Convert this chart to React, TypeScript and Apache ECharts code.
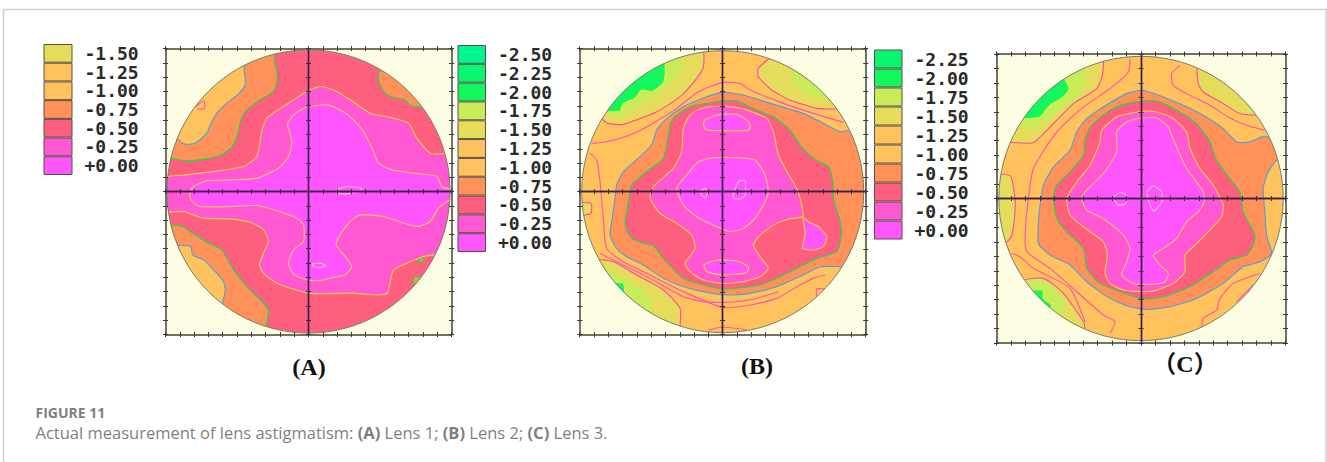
import React, { useEffect, useRef } from "react";
import * as echarts from "echarts";

type P = number[][];
type Contour = { level: string; pts: P; fill?: boolean; line?: string };

// ---- legends ----
const legendA = ["-1.50", "-1.25", "-1.00", "-0.75", "-0.50", "-0.25", "+0.00"];
const legendB = ["-2.50", "-2.25", "-2.00", "-1.75", "-1.50", "-1.25", "-1.00", "-0.75", "-0.50", "-0.25", "+0.00"];
const legendC = ["-2.25", "-2.00", "-1.75", "-1.50", "-1.25", "-1.00", "-0.75", "-0.50", "-0.25", "+0.00"];

const levelFill: Record<string, string> = {
  "-2.50": "#00F590", "-2.25": "#08F570", "-2.00": "#12F85C", "-1.75": "#C8EB5A", "-1.50": "#E6DC5C",
  "-1.25": "#FFC25C", "-1.00": "#FFC25C", "-0.75": "#FF9159", "-0.50": "#FF5F7E", "-0.25": "#FF58D2", "+0.00": "#FF55FF",
};
// colour of the line on the outer side of each level
const levelLine: Record<string, string> = {
  "-2.50": "#10E880", "-2.25": "#10E870", "-2.00": "#E0F040", "-1.75": "#D8E060", "-1.50": "#FF45A5",
  "-1.25": "#FF50B0", "-1.00": "#4DA0DC", "-0.75": "#18DC48", "-0.50": "#F8D048", "-0.25": "#FFC85A", spot: "#FFB8D0",
};

const a075TopLeft: P = [[728,50],[733,80],[740,110],[740,145],[728,172],[690,195],[650,225],[632,255],[625,290],[610,330],[575,360],[530,372],[470,378],[430,372],[400,372],[400,50]];
const a100TopLeft: P = [[640,80],[642,100],[645,150],[625,178],[590,205],[560,235],[540,270],[530,295],[495,325],[465,328],[445,315],[425,290],[420,80]];
const a125Spot: P = [[497,215],[522,198],[522,222],[502,222]];
const a075TopRight: P = [[1055,95],[1045,118],[1045,140],[1065,175],[1090,188],[1125,195],[1140,212],[1175,217],[1195,217],[1150,140],[1060,90]];
const a025Main: P = [[400,430],[470,420],[550,410],[640,395],[680,365],[695,290],[710,250],[760,215],[830,170],[870,155],[910,165],[960,195],[1020,235],[1090,250],[1135,265],[1160,310],[1200,355],[1245,357],[1290,357],[1290,660],[1215,660],[1180,665],[1130,685],[1090,705],[1080,740],[1072,775],[1050,780],[960,775],[835,775],[740,745],[700,715],[688,690],[700,655],[715,620],[700,585],[660,562],[600,552],[520,550],[460,530],[400,528]];
const a000Main: P = [[775,260],[800,232],[835,215],[890,210],[930,225],[970,255],[1000,290],[1030,350],[1045,385],[1085,405],[1150,415],[1220,425],[1235,455],[1260,462],[1290,462],[1290,485],[1260,495],[1225,520],[1200,560],[1165,575],[1120,565],[1060,545],[990,540],[960,560],[930,600],[918,630],[945,665],[965,695],[945,720],[900,730],[870,737],[830,735],[790,718],[775,685],[790,645],[820,620],[820,570],[800,550],[730,525],[680,512],[600,515],[510,515],[485,500],[478,480],[490,455],[530,438],[600,435],[680,430],[745,400],[775,365],[785,320],[772,270]];
const a000SpotRight: P = [[918,465],[950,455],[995,460],[985,470],[950,477],[925,475],[918,465]];
const a000SpotLow: P = [[845,688],[870,685],[887,692],[870,698],[850,695],[845,688]];
const a075SpotLowA: P = [[1160,680],[1180,668],[1180,680]];
const a075SpotLowB: P = [[1150,752],[1172,728],[1152,726]];
const a075LowLeft: P = [[400,570],[425,570],[458,575],[480,590],[530,622],[575,645],[610,705],[650,755],[690,795],[715,825],[708,875],[708,900],[400,900]];
const a100LowLeft: P = [[445,632],[482,635],[487,660],[520,675],[550,705],[580,740],[585,770],[578,802],[578,825],[400,825],[400,632]];

const lensAContours: Contour[] = [
  { level: "-0.75", pts: a075TopLeft, fill: true },
  { level: "-1.00", pts: a100TopLeft, fill: true },
  { level: "-1.25", pts: a125Spot },
  { level: "-0.75", pts: a075TopRight, fill: true },
  { level: "-0.75", pts: a075LowLeft, fill: true },
  { level: "-1.00", pts: a100LowLeft, fill: true },
  { level: "-0.75", pts: a075SpotLowA, fill: true },
  { level: "-0.75", pts: a075SpotLowB, fill: true },
  { level: "-0.25", pts: a025Main, fill: true, line: "-0.50" },
  { level: "+0.00", pts: a000Main, fill: true, line: "-0.25" },
  { level: "+0.00", pts: a000SpotRight, line: "spot" },
  { level: "+0.00", pts: a000SpotLow, line: "spot" },
];

// ---- lens B contours ----
const b150TopLeft: P = [[757,45],[760,95],[740,130],[690,185],[620,230],[520,268],[475,265],[460,255],[430,200],[600,45]];
const b175TopLeft: P = [[690,60],[690,115],[640,165],[570,210],[520,240],[470,235],[430,220],[600,50]];
const b200TopLeft: P = [[640,75],[642,140],[605,170],[575,165],[555,190],[520,205],[510,228],[470,230],[430,230],[500,120]];
const b150TopRight: P = [[965,65],[925,100],[925,125],[965,165],[1020,195],[1100,220],[1155,222],[1190,222],[1200,150],[1000,50]];
const b175TopRight: P = [[1030,95],[1025,135],[1065,172],[1130,192],[1180,192],[1100,80]];
const b150LowLeft: P = [[440,678],[490,680],[560,720],[640,765],[690,820],[690,875],[690,900],[440,900]];
const b175LowLeft: P = [[440,705],[470,705],[520,725],[570,760],[600,790],[610,830],[610,860],[440,860]];
const b200LowLeft: P = [[480,745],[520,745],[525,770],[550,795],[530,810],[480,780]];
const b150Left: P = [[380,505],[423,505],[423,535],[405,540],[380,540]];
const b125Upper: P = [[425,325],[470,320],[540,300],[600,270],[680,220],[745,170],[818,142],[870,145],[900,165],[1000,205],[1090,235],[1180,262]];
const b125Lower: P = [[420,355],[440,375],[450,440],[460,550],[470,640],[520,680],[600,720],[700,770],[818,817],[900,810],[980,790],[1050,750],[1090,730],[1125,720]];
const b125LowerB: P = [[450,655],[500,680],[600,730],[700,785],[760,800],[818,802],[900,795],[985,770]];
const b125Rim: P = [[775,885],[818,876],[890,885]];
const b125RightSpot: P = [[1100,790],[1100,762],[1125,762]];
const b075Ring: P = [[1290,285],[1195,285],[1170,290],[1120,265],[1060,235],[960,205],[880,180],[818,172],[770,185],[700,215],[650,250],[620,285],[605,330],[570,365],[520,410],[500,450],[495,490],[485,560],[480,600],[500,640],[530,665],[580,690],[640,730],[700,755],[770,772],[840,780],[900,775],[980,755],[1060,720],[1110,695],[1176,695],[1290,695]];
const b050Ring: P = [[818,197],[860,197],[920,225],[970,245],[1020,285],[1050,330],[1090,370],[1135,395],[1150,450],[1150,490],[1165,540],[1175,590],[1160,650],[1100,670],[1060,690],[1000,720],[930,750],[830,762],[780,755],[700,730],[640,670],[610,632],[580,625],[540,605],[525,565],[535,500],[545,450],[590,410],[640,370],[655,300],[665,255],[720,215],[770,205]];
const b025Main: P = [[760,218],[818,213],[880,222],[950,250],[970,290],[985,360],[1005,400],[1040,460],[1055,510],[1058,545],[1025,550],[980,565],[930,600],[910,630],[930,665],[955,700],[930,725],[880,740],[818,745],[760,735],[720,710],[705,685],[735,640],[725,600],[680,565],[630,535],[600,490],[610,455],[670,400],[695,350],[700,280],[720,240]];
const b025Satellite: P = [[1058,545],[1075,560],[1105,575],[1130,605],[1120,635],[1090,645],[1058,640],[1065,595],[1060,560]];
const b000Top: P = [[765,255],[800,240],[860,238],[895,260],[900,280],[890,287],[770,285],[760,270]];
const b000Bottom: P = [[762,690],[800,675],[860,678],[895,695],[890,712],[820,720],[770,710]];
const b000Centre: P = [[680,460],[710,420],[745,380],[790,368],[860,368],[915,375],[945,420],[955,470],[945,500],[915,550],[880,580],[840,590],[800,575],[740,545],[700,510]];
const b000SpotA: P = [[752,468],[765,460],[772,475],[765,488],[755,480],[752,468]];
const b000SpotB: P = [[850,480],[865,440],[885,437],[885,480],[870,492],[850,490],[850,480]];

const lensBContours: Contour[] = [
  { level: "-1.50", pts: b150TopLeft, fill: true },
  { level: "-1.75", pts: b175TopLeft, fill: true },
  { level: "-2.00", pts: b200TopLeft, fill: true },
  { level: "-1.50", pts: b150TopRight, fill: true },
  { level: "-1.75", pts: b175TopRight, fill: true },
  { level: "-1.50", pts: b150LowLeft, fill: true },
  { level: "-1.75", pts: b175LowLeft, fill: true },
  { level: "-2.00", pts: b200LowLeft, fill: true },
  { level: "-1.50", pts: b150Left, fill: true },
  { level: "-1.25", pts: b125Upper },
  { level: "-1.25", pts: b125Lower },
  { level: "-1.25", pts: b125LowerB },
  { level: "-1.25", pts: b125Rim },
  { level: "-1.25", pts: b125RightSpot },
  { level: "-0.75", pts: b075Ring, fill: true, line: "-1.00" },
  { level: "-0.50", pts: b050Ring, fill: true, line: "-0.75" },
  { level: "-0.25", pts: b025Main, fill: true, line: "-0.50" },
  { level: "+0.00", pts: b025Satellite, fill: true, line: "-0.50" },
  { level: "+0.00", pts: b000Top, fill: true, line: "-0.50" },
  { level: "+0.00", pts: b000Bottom, fill: true, line: "-0.50" },
  { level: "+0.00", pts: b000Centre, fill: true, line: "-0.25" },
  { level: "+0.00", pts: b000SpotA, line: "spot" },
  { level: "+0.00", pts: b000SpotB, line: "spot" },
];

// ---- lens C contours ----
const c150TopLeft: P = [[693,50],[698,115],[680,160],[610,205],[540,275],[490,322],[425,322],[400,322],[400,60]];
const c175TopLeft: P = [[640,90],[645,145],[620,190],[575,220],[520,262],[480,282],[450,275],[420,275],[500,100]];
const c200TopLeft: P = [[578,125],[597,160],[580,185],[540,210],[510,245],[475,250],[440,250],[520,130]];
const c150TopRight: P = [[985,90],[985,145],[1000,170],[1060,205],[1110,235],[1155,240],[1200,240],[1100,80]];
const c125TopRightLine: P = [[930,90],[905,115],[910,150],[950,175],[1020,210],[1075,245],[1130,270],[1185,285]];
const c150Left: P = [[360,422],[420,422],[432,470],[435,520],[425,600],[410,620],[360,620]];
const c150LowLeft: P = [[440,745],[520,730],[580,775],[640,860],[645,885],[645,910],[440,910]];
const c175LowLeft: P = [[440,745],[510,735],[560,765],[582,800],[575,840],[440,840]];
const c200LowLeft: P = [[470,770],[518,765],[520,790],[545,810],[535,825],[470,800]];
const c125LineA: P = [[780,70],[775,110],[720,160],[640,215],[560,290],[490,400],[475,490],[465,600],[470,650],[540,700],[620,770],[700,840],[735,860],[720,895]];
const c125LineB: P = [[425,655],[450,665],[490,700],[530,720],[600,760],[645,860]];
const c125LineC: P = [[995,885],[1000,850],[1040,825],[1050,790],[1090,745],[1170,715]];
const c125LineD: P = [[1100,800],[1150,750]];
const c075Ring: P = [[1290,375],[1222,375],[1195,410],[1180,460],[1185,530],[1190,600],[1205,655],[1170,680],[1120,695],[1060,745],[980,790],[900,815],[830,823],[780,815],[720,790],[650,740],[600,690],[540,660],[505,625],[505,560],[510,510],[520,450],[550,395],[600,345],[620,290],[650,250],[700,215],[770,175],[818,165],[880,185],[940,210],[1000,240],[1060,280],[1100,320],[1140,320],[1175,305],[1195,305],[1290,305]];
const c050Ring: P = [[818,197],[860,197],[920,225],[980,265],[1020,320],[1040,375],[1075,425],[1110,470],[1120,530],[1155,600],[1150,630],[1130,660],[1080,675],[1030,710],[960,755],[880,785],[818,792],[750,770],[690,745],[650,700],[640,640],[590,590],[560,550],[550,490],[560,450],[600,410],[640,360],[645,310],[665,270],[720,225],[770,205]];
const c025Main: P = [[818,228],[860,230],[910,250],[950,290],[960,340],[990,400],[1030,450],[1060,510],[1055,545],[1015,590],[975,630],[945,660],[945,710],[910,745],[850,768],[818,770],[760,765],[720,745],[705,715],[712,660],[700,620],[640,575],[600,540],[590,490],[620,440],[660,390],[690,320],[695,285],[740,245]];
const c000Main: P = [[818,248],[860,248],[895,275],[905,300],[935,370],[950,400],[1000,470],[1003,500],[985,530],[950,560],[920,610],[880,640],[850,660],[870,690],[895,715],[885,740],[840,748],[790,745],[755,720],[770,680],[780,640],[760,600],[700,550],[650,525],[635,490],[650,465],[700,415],[740,350],[740,290],[770,260]];
const c000SpotA: P = [[728,487],[750,472],[770,480],[768,505],[745,510],[728,487]];
const c000SpotB: P = [[830,470],[850,452],[875,470],[875,500],[852,528],[840,510],[830,470]];

const lensCContours: Contour[] = [
  { level: "-1.50", pts: c150TopLeft, fill: true },
  { level: "-1.75", pts: c175TopLeft, fill: true },
  { level: "-2.00", pts: c200TopLeft, fill: true },
  { level: "-1.50", pts: c150TopRight, fill: true },
  { level: "-1.25", pts: c125TopRightLine },
  { level: "-1.50", pts: c150Left, fill: true },
  { level: "-1.50", pts: c150LowLeft, fill: true },
  { level: "-1.75", pts: c175LowLeft, fill: true },
  { level: "-2.00", pts: c200LowLeft, fill: true },
  { level: "-1.25", pts: c125LineA },
  { level: "-1.25", pts: c125LineB },
  { level: "-1.25", pts: c125LineC },
  { level: "-1.25", pts: c125LineD },
  { level: "-0.75", pts: c075Ring, fill: true, line: "-1.00" },
  { level: "-0.50", pts: c050Ring, fill: true, line: "-0.75" },
  { level: "-0.25", pts: c025Main, fill: true, line: "-0.50" },
  { level: "+0.00", pts: c000Main, fill: true, line: "-0.25" },
  { level: "+0.00", pts: c000SpotA, line: "spot" },
  { level: "+0.00", pts: c000SpotB, line: "spot" },
];

// ---- layout and style ----
const FRAME_BG = "#FDFDE3";
const panels = [
  { contours: lensAContours, base: "-0.50", origin: [835, 470], unit: 42.9, radius: 9.9, left: 165.5, top: 48.5, size: 286, legend: legendA, legendBox: [43.5, 44, 29, 131] },
  { contours: lensBContours, base: "-1.00", origin: [818, 470], unit: 42.9, radius: 9.86, left: 579.7, top: 48.7, size: 286, legend: legendB, legendBox: [457.5, 45, 28.5, 207] },
  { contours: lensCContours, base: "-1.00", origin: [813, 490], unit: 43.4, radius: 9.84, left: 996.5, top: 54, size: 289, legend: legendC, legendBox: [874, 49.5, 28.5, 190] },
];
const panelLabels = [
  { text: "(A)", x: 309, y: 367 },
  { text: "(B)", x: 757, y: 366 },
  { text: "（C）", x: 1185, y: 364 },
];

function buildOption() {
  const grid: any[] = [], xAxis: any[] = [], yAxis: any[] = [], series: any[] = [];
  const valueRange = { type: "value", min: -10, max: 10, interval: 1, splitLine: { show: false }, axisLabel: { show: false } };

  const addAxes = (p: any, frame: boolean, inside: boolean) => {
    const g = grid.length;
    grid.push({ left: p.left, top: p.top, width: p.size, height: p.size, show: false });
    const line = frame
      ? { show: true, onZero: false, lineStyle: { color: "#6A6A5A", width: 1.5 } }
      : { show: true, onZero: true, lineStyle: { color: "#3A2048", width: 1.4 } };
    const tick = { show: true, inside, length: 2.5, lineStyle: { color: "#3A3040", width: 1 } };
    const positionsX = frame ? ["bottom", "top"] : ["bottom"];
    const positionsY = frame ? ["left", "right"] : ["left"];
    positionsX.forEach((position) => xAxis.push({ ...valueRange, gridIndex: g, position, z: 6, axisLine: line, axisTick: tick }));
    positionsY.forEach((position) => yAxis.push({ ...valueRange, gridIndex: g, position, z: 6, axisLine: line, axisTick: tick }));
  };

  panels.forEach((p) => {
    // contour map
    const g = grid.length;
    grid.push({ left: p.left, top: p.top, width: p.size, height: p.size, show: true, backgroundColor: FRAME_BG, borderWidth: 0 });
    const xi = xAxis.length, yi = yAxis.length;
    xAxis.push({ ...valueRange, gridIndex: g, show: false });
    yAxis.push({ ...valueRange, gridIndex: g, show: false });

    const toAxis = (pt: number[]) => [(pt[0] - p.origin[0]) / p.unit, (p.origin[1] - pt[1]) / p.unit];
    const n = p.contours.length;
    series.push({
      type: "custom", coordinateSystem: "cartesian2d", xAxisIndex: xi, yAxisIndex: yi, clip: true, silent: true, z: 2,
      data: Array.from({ length: n + 2 }, (_, i) => [0, 0, i]),
      renderItem: (params: any, api: any) => {
        const i = params.dataIndex;
        const c = api.coord([0, 0]);
        const r = api.size([p.radius, 0])[0];
        if (i === 0) return { type: "circle", shape: { cx: c[0], cy: c[1], r }, style: { fill: levelFill[p.base], stroke: "none" } };
        if (i === n + 1) return {
          type: "group",
          children: [
            { type: "ring", shape: { cx: c[0], cy: c[1], r: r * 2, r0: r }, style: { fill: FRAME_BG, stroke: "none" } },
            { type: "circle", shape: { cx: c[0], cy: c[1], r }, style: { fill: "none", stroke: "#7A7A66", lineWidth: 1 } },
          ],
        };
        const ct = p.contours[i - 1];
        const points = ct.pts.map((pt) => api.coord(toAxis(pt)));
        return {
          type: ct.fill ? "polygon" : "polyline",
          shape: { points, smooth: 0.2 },
          style: { fill: ct.fill ? levelFill[ct.level] : "none", stroke: levelLine[ct.line || ct.level], lineWidth: 1.1 },
        };
      },
    });

    // frame and cross, with ticks on both sides of each line
    addAxes(p, true, true);
    addAxes(p, true, false);
    addAxes(p, false, true);
    addAxes(p, false, false);

    // colour key
    const lg = grid.length;
    const [lx, ly, lw, lh] = p.legendBox;
    grid.push({ left: lx, top: ly, width: lw, height: lh, show: false });
    const lxi = xAxis.length, lyi = yAxis.length;
    xAxis.push({ type: "value", gridIndex: lg, min: 0, max: 1, show: false });
    yAxis.push({
      type: "category", gridIndex: lg, position: "right", inverse: true, data: p.legend,
      axisLine: { show: false }, axisTick: { show: false },
      axisLabel: { interval: 0, margin: 12, padding: [6, 0, 0, 0], fontFamily: "DejaVu Sans Mono", fontSize: 18, fontWeight: "bold", color: "#2A2A2A" },
    });
    series.push({
      type: "bar", xAxisIndex: lxi, yAxisIndex: lyi, barWidth: "100%", silent: true,
      data: p.legend.map((l) => ({ value: 1, itemStyle: { color: levelFill[l], borderColor: "#5A5040", borderWidth: 1 } })),
    });
  });

  const graphic: any[] = [
    { type: "polyline", silent: true, shape: { points: [[3.5, 462], [3.5, 9.5], [1326, 9.5], [1326, 462]] }, style: { fill: "none", stroke: "#CFCFCF", lineWidth: 1.5 } },
    ...panelLabels.map((l) => ({
      type: "text", silent: true, x: l.x, y: l.y,
      style: { text: l.text, align: "center", verticalAlign: "middle", fill: "#111", font: 'bold 24px "Liberation Serif", "Noto Sans CJK SC"' },
    })),
    { type: "text", silent: true, x: 35.5, y: 412, style: { text: "FIGURE 11", verticalAlign: "middle", fill: "#7F7F7F", font: 'bold 14px "Open Sans"' } },
    {
      type: "text", silent: true, x: 35.5, y: 432,
      style: {
        text: "{n|Actual measurement of lens astigmatism: }{b|(A)}{n| Lens 1; }{b|(B)}{n| Lens 2; }{b|(C)}{n| Lens 3.}",
        verticalAlign: "middle", fill: "#7F7F7F", font: '16.5px "Open Sans"',
        rich: { n: { font: '16.5px "Open Sans"', fill: "#7F7F7F" }, b: { font: 'bold 16.5px "Open Sans"', fill: "#7F7F7F" } },
      },
    },
  ];

  return { animation: false, backgroundColor: "#FFFFFF", grid, xAxis, yAxis, series, graphic };
}

export default function App() {
  const ref = useRef<HTMLDivElement>(null);
  useEffect(() => {
    document.body.style.margin = "0";
    const chart = echarts.init(ref.current!, undefined, { renderer: "svg" });
    chart.setOption(buildOption() as any);
    return () => chart.dispose();
  }, []);
  return <div ref={ref} style={{ width: 1327, height: 462 }} />;
}
